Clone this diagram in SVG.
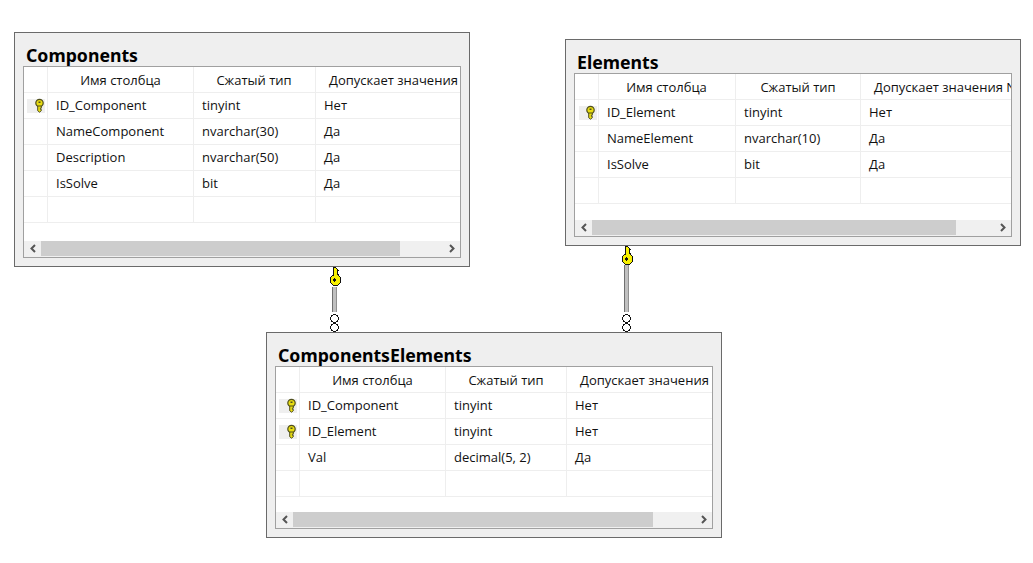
<svg xmlns="http://www.w3.org/2000/svg" width="1033" height="563" viewBox="0 0 1033 563">
<style>
text{font-family:"Open Sans","Noto Sans","Liberation Sans",sans-serif;font-size:13px;fill:#111}
.title{font-size:17.700px;font-weight:700;fill:#000;font-family:"Noto Sans","Open Sans",sans-serif}
.outer{fill:#efefef;stroke:#6a6a6a;stroke-width:1}
.inner{fill:#fff;stroke:#a0a0a0;stroke-width:1}
.grid{stroke:#eeeeee;stroke-width:1;fill:none}
.sb{fill:#f0f0f0}
.thumb{fill:#cdcdcd}
.arr{fill:none;stroke:#555;stroke-width:2}
.keybg{fill:#efefef}
.h{text-anchor:middle}
.end{fill:#fff;stroke:#111;stroke-width:1;shape-rendering:crispEdges}
</style>
<defs>
<g id="key"><circle cx="0" cy="-2" r="3.700" fill="#e8dc10" stroke="#4f4f20" stroke-width="1.200"/><path d="M-1.800 1h3.600v2.200h-0.900v1.200h0.900v1.300l-1.800 1.500-1.800-1.500z" fill="#e8dc10" stroke="#4f4f20" stroke-width="1"/><path d="M-1 -3.500h2v1.500h-2z" fill="#4f4f20"/></g>
<g id="bigkey" shape-rendering="crispEdges"><path d="M-1.500 -13l2.500 0 2.500 3.500-1 2.500 1 1.500 0 0.700c1.700 0.800 3 2.500 3 4.800 0 3-2.500 5.500-5.500 5.500s-5.500-2.500-5.500-5.500c0-2.300 1.300-4 3-4.800z" fill="#f7f000" stroke="#111" stroke-width="1"/><circle cx="0" cy="0" r="1.700" fill="#111"/></g>
<clipPath id="c2"><rect x="575" y="74" width="436" height="145"/></clipPath>
</defs>

<g id="components">
<rect class="outer" x="14.500" y="32.500" width="455" height="234"/>
<text class="title" x="26" y="61.500">Components</text>
<rect class="inner" x="23.500" y="66.500" width="437" height="191"/>
<path class="grid" d="M24 92.500H460M24 118.500H460M24 144.500H460M24 170.500H460M24 196.500H460M24 222.500H460M47.500 67V222M193.500 67V222M315.500 67V222"/>
<rect class="keybg" x="27" y="99" width="18" height="14"/>
<use href="#key" x="39.500" y="105"/>
<text class="h" x="120.500" y="85">Имя столбца</text><text class="h" x="254" y="85">Сжатый тип</text><text x="329" y="85">Допускает значения</text>
<text x="56" y="110">ID_Component</text><text x="202" y="110">tinyint</text><text x="324" y="110">Нет</text>
<text x="56" y="136">NameComponent</text><text x="202" y="136">nvarchar(30)</text><text x="324" y="136">Да</text>
<text x="56" y="162">Description</text><text x="202" y="162">nvarchar(50)</text><text x="324" y="162">Да</text>
<text x="56" y="188">IsSolve</text><text x="202" y="188">bit</text><text x="324" y="188">Да</text>
<rect class="sb" x="24" y="241" width="436" height="16"/>
<rect class="thumb" x="41" y="241" width="359" height="15"/>
<path class="arr" d="M35 245l-3.500 3.500 3.500 3.500"/>
<path class="arr" d="M450 245l3.500 3.500-3.500 3.500"/>
</g>

<g id="elements">
<rect class="outer" x="565.500" y="39.500" width="455" height="206"/>
<text class="title" x="577" y="68.500">Elements</text>
<rect class="inner" x="574.500" y="73.500" width="437" height="163"/>
<path class="grid" d="M575 99.500H1011M575 125.500H1011M575 151.500H1011M575 177.500H1011M575 203.500H1011M598.500 74V203M735.500 74V203M860.500 74V203"/>
<rect class="keybg" x="579" y="106" width="18" height="14"/>
<use href="#key" x="590.500" y="112"/>
<text class="h" x="666.500" y="92">Имя столбца</text><text class="h" x="798" y="92">Сжатый тип</text><text x="874" y="92" clip-path="url(#c2)">Допускает значения N</text>
<text x="607" y="117">ID_Element</text><text x="744" y="117">tinyint</text><text x="869" y="117">Нет</text>
<text x="607" y="143">NameElement</text><text x="744" y="143">nvarchar(10)</text><text x="869" y="143">Да</text>
<text x="607" y="169">IsSolve</text><text x="744" y="169">bit</text><text x="869" y="169">Да</text>
<rect class="sb" x="575" y="220" width="436" height="16"/>
<rect class="thumb" x="592" y="220" width="364" height="15"/>
<path class="arr" d="M586 224l-3.500 3.500 3.500 3.500"/>
<path class="arr" d="M1001 224l3.500 3.500-3.500 3.500"/>
</g>

<g id="componentselements">
<rect class="outer" x="266.500" y="332.500" width="455" height="205"/>
<text class="title" x="278" y="361.500">ComponentsElements</text>
<rect class="inner" x="275.500" y="366.500" width="437" height="162"/>
<path class="grid" d="M276 392.500H712M276 418.500H712M276 444.500H712M276 470.500H712M276 496.500H712M299.500 367V496M445.500 367V496M566.500 367V496"/>
<rect class="keybg" x="279" y="399" width="18" height="14"/>
<rect class="keybg" x="279" y="425" width="18" height="14"/>
<use href="#key" x="291.500" y="405"/>
<use href="#key" x="291.500" y="431"/>
<text class="h" x="372.500" y="385">Имя столбца</text><text class="h" x="506" y="385">Сжатый тип</text><text x="580" y="385">Допускает значения</text>
<text x="308" y="410">ID_Component</text><text x="454" y="410">tinyint</text><text x="575" y="410">Нет</text>
<text x="308" y="436">ID_Element</text><text x="454" y="436">tinyint</text><text x="575" y="436">Нет</text>
<text x="308" y="462">Val</text><text x="454" y="462">decimal(5, 2)</text><text x="575" y="462">Да</text>
<rect class="sb" x="276" y="512" width="436" height="16"/>
<rect class="thumb" x="293" y="512" width="360" height="15"/>
<path class="arr" d="M287 516l-3.500 3.500 3.500 3.500"/>
<path class="arr" d="M702 516l3.500 3.500-3.500 3.500"/>
</g>

<g id="connectors">
<path d="M334.500 287V312" stroke="#c0c0c0" stroke-width="4" fill="none"/>
<path d="M332.500 287V312" stroke="#707070" stroke-width="1" fill="none"/>
<path d="M336.500 287V312" stroke="#909090" stroke-width="1" fill="none"/>
<circle class="end" cx="334.500" cy="318.500" r="3.800"/>
<circle class="end" cx="334.500" cy="327.500" r="3.800"/>
<use href="#bigkey" x="334.500" y="280"/>
<path d="M626.500 265V312" stroke="#c0c0c0" stroke-width="4" fill="none"/>
<path d="M624.500 265V312" stroke="#707070" stroke-width="1" fill="none"/>
<path d="M628.500 265V312" stroke="#909090" stroke-width="1" fill="none"/>
<circle class="end" cx="626.500" cy="318.500" r="3.800"/>
<circle class="end" cx="626.500" cy="327.500" r="3.800"/>
<use href="#bigkey" x="626.500" y="259"/>
</g>
</svg>
